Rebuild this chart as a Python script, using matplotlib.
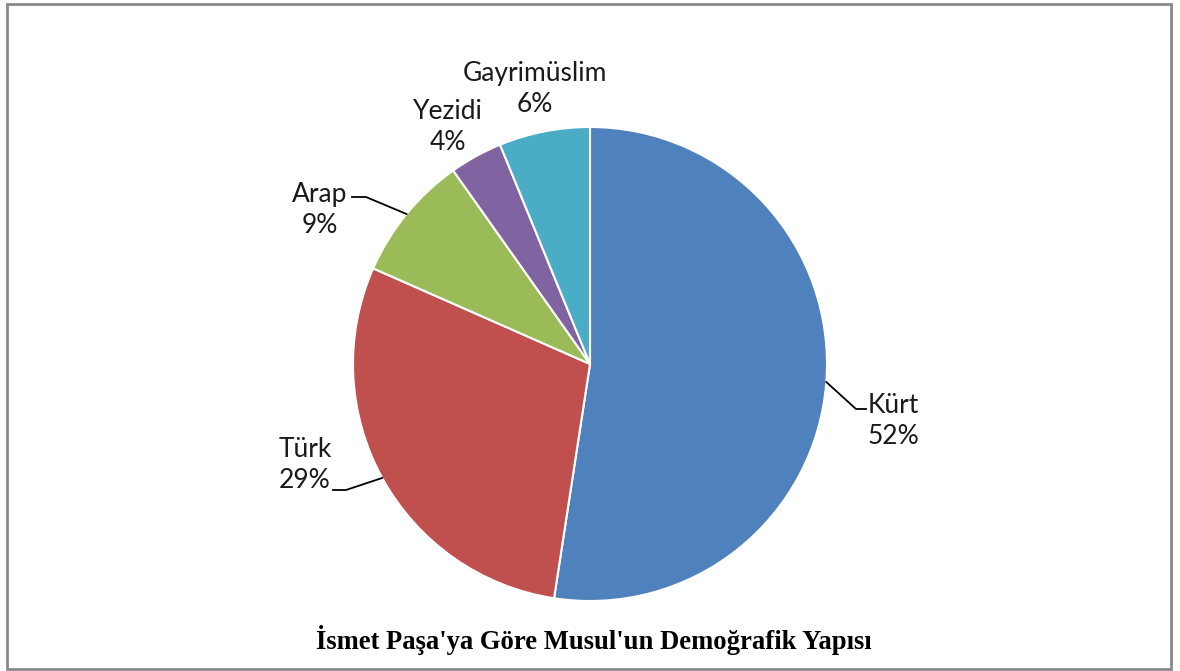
import numpy as np
import matplotlib.pyplot as plt
from matplotlib.patches import Rectangle

# İsmet Paşa'nın Lozan'da verdiği rakamlara göre oranlar (%)
groups = ["Kürt", "Türk", "Arap", "Yezidi", "Gayrimüslim"]
shares = [52.45, 29.2, 8.6, 3.6, 6.2]
colors = ["#4F81BD", "#C0504D", "#9BBB59", "#8064A2", "#4BACC6"]
title = "İsmet Paşa'ya Göre Musul'un Demoğrafik Yapısı"

W, H = 1180, 671
cx, cy, r = 590, H - 364, 237

# label centre positions (pixels from top-left)
label_pos = {
    "Kürt": (893, 421),
    "Türk": (305, 465),
    "Arap": (320, 210),
    "Yezidi": (448, 127),
    "Gayrimüslim": (535, 89),
}
leaders = {
    "Kürt": [(856, 409), (866, 409)],
    "Türk": [(346, 490), (333, 490)],
    "Arap": [(366, 197), (352, 197)],
}

fig = plt.figure(figsize=(W / 100, H / 100), dpi=100)
ax = fig.add_axes([0, 0, 1, 1])

wedges, _ = ax.pie(shares, colors=colors, startangle=90, counterclock=False,
                   center=(cx, cy), radius=r,
                   wedgeprops=dict(edgecolor="white", linewidth=1.5))
ax.set_xlim(0, W)
ax.set_ylim(0, H)
ax.set_aspect("equal")
ax.axis("off")

for w, name, s in zip(wedges, groups, shares):
    mid = np.deg2rad((w.theta1 + w.theta2) / 2)
    ex, ey = cx + r * np.cos(mid), cy + r * np.sin(mid)
    lx, ly = label_pos[name]
    ax.text(lx, H - ly, f"{name}\n{round(s)}%", ha="center", va="center",
            fontsize=19, family="Lato", linespacing=1.33, color="#1a1a1a")
    if name in leaders:
        pts = [(ex, ey)] + [(x, H - y) for x, y in leaders[name]]
        ax.plot([p[0] for p in pts], [p[1] for p in pts], color="black", lw=1.3)

ax.text(594, H - 640, title, ha="center", va="center", fontsize=19.2,
        fontweight="bold", family="Liberation Serif")

fig.patches.append(Rectangle((7 / W, 2 / H), 1164 / W, 665 / H, transform=fig.transFigure,
                             fill=False, edgecolor="#898989", linewidth=2))

fig.savefig("out.png", dpi=100)
